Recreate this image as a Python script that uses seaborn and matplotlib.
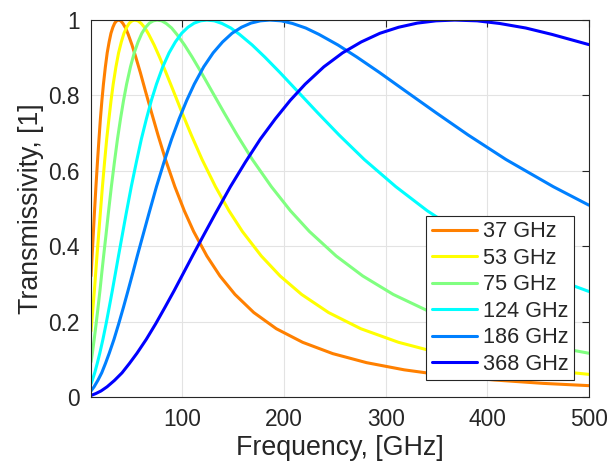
import pandas as pd
import seaborn as sns
import matplotlib.pyplot as plt

# values (frequency in GHz, transmissivity in [1])
f_37 = [10, 11.1, 12.2, 13.3, 14.8, 16.3, 17.8, 19.2, 20.7, 22.2, 24.1, 25.9,
        27.8, 29.6, 31.5, 33.3, 35.2, 37, 39.2, 41.4, 44.0, 46.6, 50.3, 54.0,
        58.5, 63.6, 69.6, 75.9, 83.3, 92.5, 101.8, 111, 124.0, 136.9, 151.7,
        170.2, 192.4, 218.3, 247.9, 281.2, 318.2, 358.9, 407, 455.1, 500]
t_37 = [0.321, 0.377, 0.432, 0.487, 0.558, 0.623, 0.684, 0.738, 0.787, 0.830,
        0.876, 0.913, 0.942, 0.965, 0.981, 0.992, 0.998, 1.000, 0.998, 0.991,
        0.979, 0.962, 0.934, 0.902, 0.861, 0.811, 0.754, 0.695, 0.630, 0.558,
        0.494, 0.439, 0.374, 0.321, 0.272, 0.224, 0.181, 0.145, 0.115, 0.091,
        0.072, 0.057, 0.045, 0.036, 0.030]

f_53 = [10, 11.9, 13.3, 14.6, 15.9, 17.5, 19.1, 21.2, 23.3, 25.4, 27.6, 29.7,
        31.8, 34.5, 37.1, 39.8, 42.4, 45.1, 47.7, 50.4, 53, 56.2, 59.4, 63.1,
        66.8, 72.1, 77.4, 83.7, 91.2, 99.6, 108.7, 119.3, 132.5, 145.8, 159,
        177.6, 196.1, 217.3, 243.8, 275.6, 312.7, 355.1, 402.8, 455.8, 500]
t_53 = [0.175, 0.238, 0.283, 0.330, 0.377, 0.432, 0.487, 0.558, 0.623, 0.684,
        0.738, 0.787, 0.830, 0.876, 0.913, 0.942, 0.965, 0.981, 0.992, 0.998,
        1.000, 0.998, 0.991, 0.979, 0.962, 0.934, 0.902, 0.861, 0.811, 0.754,
        0.695, 0.630, 0.558, 0.494, 0.439, 0.374, 0.321, 0.272, 0.224, 0.181,
        0.145, 0.115, 0.091, 0.072, 0.060]

f_75 = [10, 11.3, 13.1, 15, 16.9, 18.8, 20.6, 22.5, 24.8, 27, 30, 33, 36, 39,
        42, 45, 48.8, 52.5, 56.3, 60, 63.8, 67.5, 71.3, 75, 79.5, 84, 89.3,
        94.5, 102, 109.5, 118.5, 129, 141, 153.8, 168.8, 187.5, 206.3, 225,
        251.3, 277.5, 307.5, 345, 390, 442.5, 500]
t_75 = [0.093, 0.116, 0.153, 0.194, 0.238, 0.283, 0.330, 0.377, 0.432, 0.487,
        0.558, 0.623, 0.684, 0.738, 0.787, 0.830, 0.876, 0.913, 0.942, 0.965,
        0.981, 0.992, 0.998, 1.000, 0.998, 0.991, 0.979, 0.962, 0.934, 0.902,
        0.861, 0.811, 0.754, 0.695, 0.630, 0.558, 0.494, 0.439, 0.374, 0.321,
        0.272, 0.224, 0.181, 0.145, 0.116]

f_124 = [10, 11.2, 13.6, 16.1, 18.6, 21.7, 24.8, 27.9, 31, 34.1, 37.2, 40.9,
         44.6, 49.6, 54.6, 59.5, 64.5, 69.4, 74.4, 80.6, 86.8, 93, 99.2, 105.4,
         111.6, 117.8, 124, 131.4, 138.9, 147.6, 156.2, 168.6, 181, 195.9,
         213.3, 233.1, 254.2, 279, 310, 341, 372, 415.4, 458.8, 500]
t_124 = [0.035, 0.044, 0.064, 0.089, 0.116, 0.153, 0.194, 0.238, 0.283, 0.330,
         0.377, 0.432, 0.487, 0.558, 0.623, 0.684, 0.738, 0.787, 0.830, 0.876,
         0.913, 0.942, 0.965, 0.981, 0.992, 0.998, 1.000, 0.998, 0.991, 0.979,
         0.962, 0.934, 0.902, 0.861, 0.811, 0.754, 0.695, 0.630, 0.558, 0.494,
         0.439, 0.374, 0.321, 0.280]

f_186 = [10, 13, 16.7, 20.5, 24.2, 27.9, 32.6, 37.2, 41.9, 46.5, 51.2, 55.8,
         61.4, 67, 74.4, 81.8, 89.3, 96.7, 104.2, 111.6, 120.9, 130.2, 139.5,
         148.8, 158.1, 167.4, 176.7, 186, 197.2, 208.3, 221.3, 234.4, 253,
         271.6, 293.9, 319.9, 349.7, 381.3, 418.5, 465, 500]
t_186 = [0.016, 0.027, 0.044, 0.064, 0.089, 0.116, 0.153, 0.194, 0.238, 0.283,
         0.330, 0.377, 0.432, 0.487, 0.558, 0.623, 0.684, 0.738, 0.787, 0.830,
         0.876, 0.913, 0.942, 0.965, 0.981, 0.992, 0.998, 1.000, 0.998, 0.991,
         0.979, 0.962, 0.934, 0.902, 0.861, 0.811, 0.754, 0.695, 0.630, 0.558,
         0.509]

f_368 = [10, 14.7, 19.9, 25.8, 33.1, 40.5, 47.8, 55.2, 64.4, 73.6, 82.8, 92,
         101.2, 110.4, 121.4, 132.5, 147.2, 161.9, 176.6, 191.4, 206.1, 220.8,
         239.2, 257.6, 276, 294.4, 312.8, 331.2, 349.6, 368, 390.1, 412.2,
         437.9, 463.7, 500]
t_368 = [0.004, 0.009, 0.016, 0.027, 0.044, 0.064, 0.089, 0.116, 0.153, 0.194,
         0.238, 0.283, 0.330, 0.377, 0.432, 0.487, 0.558, 0.623, 0.684, 0.738,
         0.787, 0.830, 0.876, 0.913, 0.942, 0.965, 0.981, 0.992, 0.998, 1.000,
         0.998, 0.991, 0.979, 0.962, 0.935]

labels = ['37 GHz', '53 GHz', '75 GHz', '124 GHz', '186 GHz', '368 GHz']
colors = ['#ff8000', '#ffff00', '#80ff80', '#00ffff', '#0080ff', '#0000ff']

curves = [(f_37, t_37), (f_53, t_53), (f_75, t_75),
          (f_124, t_124), (f_186, t_186), (f_368, t_368)]
frames = [pd.DataFrame({'freq': f, 'T': t, 'band': lab})
          for (f, t), lab in zip(curves, labels)]
df = pd.concat(frames, ignore_index=True)

sns.set_style("white")
plt.rcParams['font.family'] = ['Liberation Sans', 'DejaVu Sans']

fig = plt.figure(figsize=(6.07, 4.67), dpi=100)
ax = fig.add_axes([0.150, 0.150, 0.820, 0.807])

sns.lineplot(data=df, x='freq', y='T', hue='band', hue_order=labels,
             palette=colors, linewidth=2.2, ax=ax, sort=False)

ax.set_xlim(10, 500)
ax.set_ylim(0, 1)
ax.set_xticks([100, 200, 300, 400, 500])
ax.set_yticks([0, 0.2, 0.4, 0.6, 0.8, 1])
ax.set_yticklabels(['0', '0.2', '0.4', '0.6', '0.8', '1'])
ax.grid(True, color='#e3e3e3', linewidth=0.8)
ax.set_axisbelow(True)
ax.tick_params(direction='in', length=5, width=0.8, colors='#262626',
               labelsize=16.4, top=True, right=True, pad=8)
for sp in ax.spines.values():
    sp.set_color('#262626')
    sp.set_linewidth(0.8)

ax.set_xlabel('Frequency, [GHz]', fontsize=19.3, color='#262626', labelpad=3)
ax.set_ylabel('Transmissivity, [1]', fontsize=19.3, color='#262626', labelpad=3)

leg = ax.legend(loc='lower right', bbox_to_anchor=(0.97, 0.045),
                fontsize=15.6, frameon=True, fancybox=False, framealpha=1,
                edgecolor='#262626', handlelength=2.1, handletextpad=0.25,
                labelspacing=0.25, borderpad=0.25, borderaxespad=0)
leg.get_frame().set_linewidth(0.8)

fig.savefig('out.png', dpi=100)
